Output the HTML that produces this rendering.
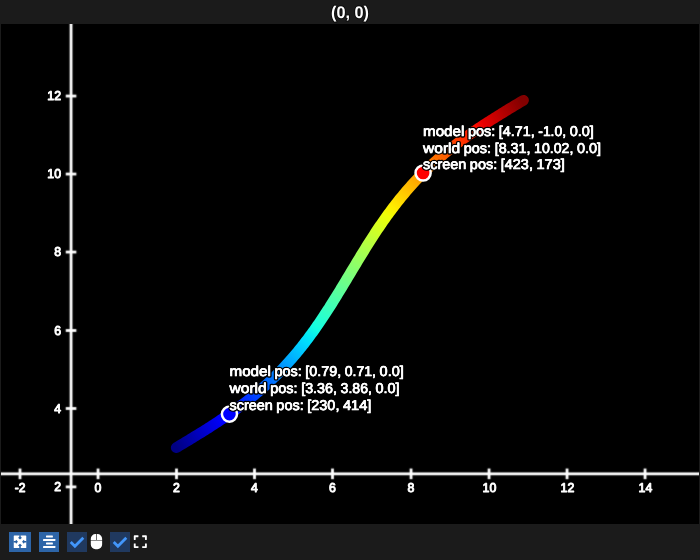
<!DOCTYPE html>
<html><head><meta charset="utf-8"><title>(0, 0)</title>
<style>
html,body{margin:0;padding:0;}
body{width:700px;height:560px;background:#1b1b1b;overflow:hidden;position:relative;font-family:"Liberation Sans",sans-serif;}
#view{position:absolute;left:1px;top:24px;width:698px;height:500px;background:#000;}
#title{font-family:"Liberation Sans",sans-serif;font-weight:bold;font-size:16.9px;fill:#fff;stroke:#0a0a0a;stroke-width:2px;stroke-linejoin:round;paint-order:stroke fill;}
svg{position:absolute;left:0;top:0;text-rendering:geometricPrecision;}
.tick text{font-family:"Liberation Sans",sans-serif;font-size:12.8px;fill:#fff;stroke:#fff;stroke-width:0.95px;stroke-linejoin:round;}
.annt{font-family:"Liberation Sans",sans-serif;font-size:14.2px;}
.halo{fill:#fff;stroke:#000;stroke-width:3.3px;stroke-linejoin:round;paint-order:stroke fill;}
.face{fill:#fff;stroke:#fff;stroke-width:0.7px;stroke-linejoin:round;}
</style></head><body>
<div id="view"></div>
<svg width="700" height="560" viewBox="0 0 700 560">
<text id="title" x="331" y="18.3" textLength="38" lengthAdjust="spacingAndGlyphs">(0, 0)</text>
<defs><g id="annt" class="annt">
<text y="376.00"><tspan x="229.50" textLength="41.32" lengthAdjust="spacingAndGlyphs">model</tspan> <tspan x="274.43" textLength="27.30" lengthAdjust="spacingAndGlyphs">pos:</tspan> <tspan x="305.34" textLength="35.82" lengthAdjust="spacingAndGlyphs">[0.79,</tspan> <tspan x="344.77" textLength="31.26" lengthAdjust="spacingAndGlyphs">0.71,</tspan> <tspan x="379.64" textLength="24.17" lengthAdjust="spacingAndGlyphs">0.0]</tspan></text>
<text y="393.00"><tspan x="229.50" textLength="37.16" lengthAdjust="spacingAndGlyphs">world</tspan> <tspan x="270.27" textLength="27.30" lengthAdjust="spacingAndGlyphs">pos:</tspan> <tspan x="301.18" textLength="35.82" lengthAdjust="spacingAndGlyphs">[3.36,</tspan> <tspan x="340.61" textLength="31.26" lengthAdjust="spacingAndGlyphs">3.86,</tspan> <tspan x="375.48" textLength="24.17" lengthAdjust="spacingAndGlyphs">0.0]</tspan></text>
<text y="410.00"><tspan x="229.50" textLength="43.28" lengthAdjust="spacingAndGlyphs">screen</tspan> <tspan x="276.39" textLength="27.30" lengthAdjust="spacingAndGlyphs">pos:</tspan> <tspan x="307.30" textLength="32.10" lengthAdjust="spacingAndGlyphs">[230,</tspan> <tspan x="343.01" textLength="28.38" lengthAdjust="spacingAndGlyphs">414]</tspan></text>
<text y="136.00"><tspan x="423.00" textLength="41.32" lengthAdjust="spacingAndGlyphs">model</tspan> <tspan x="467.93" textLength="27.30" lengthAdjust="spacingAndGlyphs">pos:</tspan> <tspan x="498.84" textLength="35.82" lengthAdjust="spacingAndGlyphs">[4.71,</tspan> <tspan x="538.27" textLength="27.79" lengthAdjust="spacingAndGlyphs">-1.0,</tspan> <tspan x="569.67" textLength="24.17" lengthAdjust="spacingAndGlyphs">0.0]</tspan></text>
<text y="153.00"><tspan x="423.00" textLength="37.16" lengthAdjust="spacingAndGlyphs">world</tspan> <tspan x="463.77" textLength="27.30" lengthAdjust="spacingAndGlyphs">pos:</tspan> <tspan x="494.68" textLength="35.82" lengthAdjust="spacingAndGlyphs">[8.31,</tspan> <tspan x="534.11" textLength="39.20" lengthAdjust="spacingAndGlyphs">10.02,</tspan> <tspan x="576.92" textLength="24.17" lengthAdjust="spacingAndGlyphs">0.0]</tspan></text>
<text y="169.00"><tspan x="423.00" textLength="43.28" lengthAdjust="spacingAndGlyphs">screen</tspan> <tspan x="469.89" textLength="27.30" lengthAdjust="spacingAndGlyphs">pos:</tspan> <tspan x="500.80" textLength="32.10" lengthAdjust="spacingAndGlyphs">[423,</tspan> <tspan x="536.51" textLength="28.38" lengthAdjust="spacingAndGlyphs">173]</tspan></text>
</g>
<filter id="soft" filterUnits="userSpaceOnUse" x="-10" y="0" width="720" height="560"><feConvolveMatrix order="3" kernelMatrix="0.0196 0.1008 0.0196 0.1008 0.5184 0.1008 0.0196 0.1008 0.0196" preserveAlpha="false" edgeMode="none"/></filter>
<clipPath id="vp"><rect x="1" y="24" width="698" height="500"/></clipPath></defs>
<g clip-path="url(#vp)">
<mask id="lm" maskUnits="userSpaceOnUse" x="0" y="0" width="700" height="560"><polyline points="176.29,447.63 178.10,446.54 179.91,445.46 181.71,444.37 183.52,443.29 185.33,442.20 187.13,441.11 188.93,440.02 190.73,438.93 192.53,437.83 194.33,436.73 196.13,435.64 197.92,434.53 199.71,433.43 201.49,432.32 203.27,431.21 205.05,430.09 206.83,428.98 208.60,427.85 210.37,426.73 212.13,425.59 213.88,424.46 215.64,423.32 217.38,422.17 219.13,421.02 220.86,419.86 222.59,418.70 224.32,417.53 226.04,416.35 227.75,415.17 229.45,413.98 231.15,412.79 232.84,411.59 234.53,410.38 236.21,409.16 237.88,407.94 239.54,406.71 241.20,405.47 242.84,404.22 244.48,402.97 246.11,401.71 247.74,400.44 249.35,399.16 250.96,397.87 252.56,396.58 254.15,395.27 255.73,393.96 257.30,392.64 258.86,391.31 260.41,389.97 261.96,388.62 263.49,387.26 265.02,385.89 266.54,384.51 268.05,383.13 269.54,381.73 271.03,380.33 272.51,378.91 273.98,377.49 275.44,376.06 276.90,374.61 278.34,373.16 279.77,371.70 281.19,370.23 282.61,368.75 284.01,367.26 285.40,365.76 286.79,364.25 288.17,362.73 289.53,361.21 290.89,359.67 292.24,358.13 293.58,356.57 294.91,355.01 296.23,353.43 297.54,351.85 298.85,350.26 300.14,348.66 301.43,347.06 302.71,345.44 303.97,343.82 305.24,342.19 306.49,340.54 307.74,338.90 308.97,337.24 310.20,335.58 311.43,333.91 312.64,332.23 313.85,330.54 315.05,328.85 316.25,327.15 317.43,325.44 318.61,323.73 319.79,322.01 320.96,320.28 322.12,318.55 323.28,316.82 324.43,315.07 325.57,313.32 326.71,311.57 327.85,309.81 328.98,308.05 330.11,306.28 331.23,304.51 332.35,302.74 333.46,300.96 334.57,299.17 335.68,297.39 336.78,295.60 337.88,293.80 338.98,292.01 340.08,290.21 341.17,288.41 342.27,286.61 343.36,284.80 344.44,283.00 345.53,281.19 346.62,279.38 347.70,277.58 348.79,275.77 349.87,273.96 350.96,272.15 352.04,270.34 353.13,268.53 354.22,266.72 355.30,264.92 356.39,263.11 357.48,261.31 358.57,259.51 359.67,257.71 360.76,255.91 361.86,254.11 362.96,252.32 364.07,250.53 365.17,248.74 366.29,246.96 367.40,245.18 368.52,243.40 369.64,241.63 370.77,239.87 371.90,238.10 373.03,236.34 374.17,234.59 375.32,232.84 376.47,231.10 377.63,229.36 378.79,227.63 379.96,225.91 381.13,224.19 382.31,222.47 383.50,220.77 384.70,219.07 385.90,217.37 387.11,215.69 388.32,214.01 389.54,212.34 390.77,210.68 392.01,209.02 393.26,207.37 394.51,205.73 395.77,204.10 397.04,202.47 398.32,200.86 399.61,199.25 400.90,197.65 402.21,196.06 403.52,194.48 404.84,192.91 406.17,191.34 407.51,189.79 408.86,188.24 410.21,186.71 411.58,185.18 412.96,183.66 414.34,182.15 415.74,180.66 417.14,179.17 418.55,177.69 419.98,176.21 421.41,174.75 422.85,173.30 424.30,171.86 425.76,170.43 427.23,169.00 428.71,167.59 430.20,166.18 431.70,164.79 433.21,163.40 434.73,162.03 436.25,160.66 437.79,159.30 439.33,157.95 440.89,156.61 442.45,155.28 444.02,153.96 445.60,152.64 447.19,151.34 448.79,150.04 450.39,148.76 452.01,147.48 453.63,146.21 455.26,144.95 456.90,143.69 458.55,142.44 460.21,141.21 461.87,139.98 463.54,138.75 465.22,137.54 466.90,136.33 468.59,135.13 470.29,133.93 472.00,132.74 473.71,131.56 475.43,130.39 477.15,129.22 478.88,128.05 480.62,126.90 482.36,125.74 484.11,124.60 485.86,123.46 487.62,122.32 489.38,121.19 491.15,120.06 492.92,118.94 494.69,117.82 496.47,116.71 498.26,115.59 500.04,114.49 501.83,113.38 503.62,112.28 505.42,111.18 507.21,110.08 509.01,108.99 510.81,107.90 512.62,106.81 514.42,105.72 516.23,104.63 518.03,103.54 519.84,102.46 521.65,101.37 523.46,100.29" fill="none" stroke="#fff" stroke-width="10.8" stroke-linecap="round" stroke-linejoin="round"/></mask>
<g mask="url(#lm)"><g stroke-width="18" stroke-linecap="butt" fill="none">
<line x1="170.29" y1="451.23" x2="178.96" y2="446.03" stroke="#000082"/>
<line x1="177.24" y1="447.06" x2="180.76" y2="444.94" stroke="#000087"/>
<line x1="179.05" y1="445.97" x2="182.57" y2="443.86" stroke="#00008c"/>
<line x1="180.86" y1="444.89" x2="184.38" y2="442.77" stroke="#000090"/>
<line x1="182.66" y1="443.80" x2="186.18" y2="441.68" stroke="#000095"/>
<line x1="184.47" y1="442.71" x2="187.99" y2="440.59" stroke="#00009a"/>
<line x1="186.27" y1="441.63" x2="189.79" y2="439.50" stroke="#00009f"/>
<line x1="188.08" y1="440.54" x2="191.59" y2="438.41" stroke="#0000a4"/>
<line x1="189.88" y1="439.44" x2="193.39" y2="437.31" stroke="#0000a9"/>
<line x1="191.68" y1="438.35" x2="195.18" y2="436.21" stroke="#0000ad"/>
<line x1="193.48" y1="437.26" x2="196.98" y2="435.11" stroke="#0000b2"/>
<line x1="195.27" y1="436.16" x2="198.77" y2="434.01" stroke="#0000b7"/>
<line x1="197.07" y1="435.06" x2="200.56" y2="432.90" stroke="#0000bc"/>
<line x1="198.86" y1="433.96" x2="202.34" y2="431.79" stroke="#0000c1"/>
<line x1="200.64" y1="432.85" x2="204.12" y2="430.68" stroke="#0000c6"/>
<line x1="202.43" y1="431.74" x2="205.90" y2="429.56" stroke="#0000ca"/>
<line x1="204.21" y1="430.63" x2="207.67" y2="428.44" stroke="#0000cf"/>
<line x1="205.98" y1="429.51" x2="209.44" y2="427.32" stroke="#0000d4"/>
<line x1="207.76" y1="428.39" x2="211.21" y2="426.19" stroke="#0000d9"/>
<line x1="209.52" y1="427.27" x2="212.97" y2="425.05" stroke="#0000de"/>
<line x1="211.29" y1="426.14" x2="214.72" y2="423.92" stroke="#0000e3"/>
<line x1="213.05" y1="425.00" x2="216.47" y2="422.77" stroke="#0000e7"/>
<line x1="214.80" y1="423.87" x2="218.22" y2="421.62" stroke="#0000ec"/>
<line x1="216.55" y1="422.72" x2="219.96" y2="420.47" stroke="#0000f1"/>
<line x1="218.29" y1="421.57" x2="221.69" y2="419.31" stroke="#0000f6"/>
<line x1="220.03" y1="420.42" x2="223.42" y2="418.14" stroke="#0000fb"/>
<line x1="221.77" y1="419.26" x2="225.15" y2="416.97" stroke="#0000ff"/>
<line x1="223.49" y1="418.09" x2="226.86" y2="415.79" stroke="#0000ff"/>
<line x1="225.21" y1="416.92" x2="228.57" y2="414.60" stroke="#0000ff"/>
<line x1="226.93" y1="415.74" x2="230.27" y2="413.41" stroke="#0000ff"/>
<line x1="228.64" y1="414.56" x2="231.97" y2="412.21" stroke="#0002ff"/>
<line x1="230.34" y1="413.37" x2="233.66" y2="411.01" stroke="#0006ff"/>
<line x1="232.03" y1="412.17" x2="235.34" y2="409.80" stroke="#000bff"/>
<line x1="233.72" y1="410.97" x2="237.02" y2="408.58" stroke="#000fff"/>
<line x1="235.40" y1="409.75" x2="238.68" y2="407.35" stroke="#0013ff"/>
<line x1="237.07" y1="408.53" x2="240.34" y2="406.11" stroke="#0017ff"/>
<line x1="238.74" y1="407.31" x2="242.00" y2="404.87" stroke="#001cff"/>
<line x1="240.40" y1="406.07" x2="243.64" y2="403.62" stroke="#0020ff"/>
<line x1="242.05" y1="404.83" x2="245.28" y2="402.36" stroke="#0024ff"/>
<line x1="243.69" y1="403.58" x2="246.90" y2="401.10" stroke="#0028ff"/>
<line x1="245.33" y1="402.32" x2="248.52" y2="399.82" stroke="#002dff"/>
<line x1="246.95" y1="401.06" x2="250.14" y2="398.54" stroke="#0031ff"/>
<line x1="248.57" y1="399.78" x2="251.74" y2="397.25" stroke="#0035ff"/>
<line x1="250.18" y1="398.50" x2="253.33" y2="395.95" stroke="#0039ff"/>
<line x1="251.78" y1="397.21" x2="254.92" y2="394.64" stroke="#003eff"/>
<line x1="253.38" y1="395.91" x2="256.50" y2="393.32" stroke="#0042ff"/>
<line x1="254.96" y1="394.60" x2="258.06" y2="391.99" stroke="#0046ff"/>
<line x1="256.54" y1="393.28" x2="259.62" y2="390.66" stroke="#004aff"/>
<line x1="258.10" y1="391.96" x2="261.17" y2="389.31" stroke="#004fff"/>
<line x1="259.66" y1="390.62" x2="262.71" y2="387.96" stroke="#0053ff"/>
<line x1="261.21" y1="389.28" x2="264.24" y2="386.60" stroke="#0057ff"/>
<line x1="262.75" y1="387.93" x2="265.77" y2="385.22" stroke="#005bff"/>
<line x1="264.28" y1="386.56" x2="267.28" y2="383.84" stroke="#0060ff"/>
<line x1="265.80" y1="385.19" x2="268.78" y2="382.45" stroke="#0064ff"/>
<line x1="267.31" y1="383.81" x2="270.28" y2="381.05" stroke="#0068ff"/>
<line x1="268.82" y1="382.42" x2="271.76" y2="379.64" stroke="#006cff"/>
<line x1="270.31" y1="381.02" x2="273.24" y2="378.22" stroke="#0071ff"/>
<line x1="271.79" y1="379.61" x2="274.70" y2="376.79" stroke="#0075ff"/>
<line x1="273.27" y1="378.19" x2="276.16" y2="375.36" stroke="#0079ff"/>
<line x1="274.73" y1="376.76" x2="277.60" y2="373.91" stroke="#007dff"/>
<line x1="276.19" y1="375.32" x2="279.04" y2="372.45" stroke="#0082ff"/>
<line x1="277.64" y1="373.88" x2="280.47" y2="370.99" stroke="#0086ff"/>
<line x1="279.07" y1="372.42" x2="281.89" y2="369.51" stroke="#008aff"/>
<line x1="280.50" y1="370.95" x2="283.30" y2="368.03" stroke="#008eff"/>
<line x1="281.92" y1="369.48" x2="284.70" y2="366.53" stroke="#0093ff"/>
<line x1="283.33" y1="367.99" x2="286.09" y2="365.03" stroke="#0097ff"/>
<line x1="284.73" y1="366.50" x2="287.47" y2="363.52" stroke="#009bff"/>
<line x1="286.12" y1="364.99" x2="288.84" y2="361.99" stroke="#009fff"/>
<line x1="287.50" y1="363.48" x2="290.20" y2="360.46" stroke="#00a4ff"/>
<line x1="288.87" y1="361.96" x2="291.55" y2="358.92" stroke="#00a8ff"/>
<line x1="290.23" y1="360.42" x2="292.90" y2="357.37" stroke="#00acff"/>
<line x1="291.59" y1="358.88" x2="294.23" y2="355.81" stroke="#00b0ff"/>
<line x1="292.93" y1="357.33" x2="295.56" y2="354.25" stroke="#00b5ff"/>
<line x1="294.26" y1="355.77" x2="296.87" y2="352.67" stroke="#00b9ff"/>
<line x1="295.59" y1="354.20" x2="298.18" y2="351.08" stroke="#00bdff"/>
<line x1="296.91" y1="352.63" x2="299.48" y2="349.49" stroke="#00c1ff"/>
<line x1="298.22" y1="351.04" x2="300.77" y2="347.89" stroke="#00c6ff"/>
<line x1="299.52" y1="349.45" x2="302.05" y2="346.28" stroke="#00caff"/>
<line x1="300.81" y1="347.84" x2="303.33" y2="344.66" stroke="#00ceff"/>
<line x1="302.09" y1="346.23" x2="304.59" y2="343.03" stroke="#00d2ff"/>
<line x1="303.36" y1="344.61" x2="305.85" y2="341.39" stroke="#00d7ff"/>
<line x1="304.63" y1="342.98" x2="307.10" y2="339.75" stroke="#00dbff"/>
<line x1="305.89" y1="341.34" x2="308.34" y2="338.10" stroke="#00dffc"/>
<line x1="307.14" y1="339.70" x2="309.57" y2="336.44" stroke="#00e3f8"/>
<line x1="308.38" y1="338.04" x2="310.80" y2="334.77" stroke="#02e8f5"/>
<line x1="309.61" y1="336.38" x2="312.02" y2="333.10" stroke="#05ecf2"/>
<line x1="310.84" y1="334.72" x2="313.23" y2="331.42" stroke="#09f0ee"/>
<line x1="312.06" y1="333.04" x2="314.43" y2="329.73" stroke="#0cf4eb"/>
<line x1="313.27" y1="331.36" x2="315.63" y2="328.03" stroke="#0ff9e7"/>
<line x1="314.48" y1="329.67" x2="316.82" y2="326.33" stroke="#13fde4"/>
<line x1="315.67" y1="327.97" x2="318.00" y2="324.62" stroke="#16ffe0"/>
<line x1="316.86" y1="326.27" x2="319.18" y2="322.91" stroke="#1affdd"/>
<line x1="318.05" y1="324.55" x2="320.35" y2="321.18" stroke="#1dffda"/>
<line x1="319.23" y1="322.84" x2="321.52" y2="319.46" stroke="#21ffd6"/>
<line x1="320.40" y1="321.11" x2="322.68" y2="317.72" stroke="#24ffd3"/>
<line x1="321.56" y1="319.39" x2="323.83" y2="315.98" stroke="#27ffcf"/>
<line x1="322.72" y1="317.65" x2="324.98" y2="314.24" stroke="#2bffcc"/>
<line x1="323.88" y1="315.91" x2="326.12" y2="312.49" stroke="#2effc9"/>
<line x1="325.03" y1="314.16" x2="327.26" y2="310.73" stroke="#32ffc5"/>
<line x1="326.17" y1="312.41" x2="328.39" y2="308.97" stroke="#35ffc2"/>
<line x1="327.31" y1="310.65" x2="329.52" y2="307.21" stroke="#39ffbe"/>
<line x1="328.44" y1="308.89" x2="330.64" y2="305.44" stroke="#3cffbb"/>
<line x1="329.57" y1="307.13" x2="331.76" y2="303.67" stroke="#3fffb7"/>
<line x1="330.70" y1="305.36" x2="332.88" y2="301.89" stroke="#43ffb4"/>
<line x1="331.82" y1="303.58" x2="333.99" y2="300.11" stroke="#46ffb1"/>
<line x1="332.93" y1="301.80" x2="335.10" y2="298.32" stroke="#4affad"/>
<line x1="334.05" y1="300.02" x2="336.21" y2="296.54" stroke="#4dffaa"/>
<line x1="335.15" y1="298.24" x2="337.31" y2="294.74" stroke="#51ffa6"/>
<line x1="336.26" y1="296.45" x2="338.41" y2="292.95" stroke="#54ffa3"/>
<line x1="337.36" y1="294.66" x2="339.51" y2="291.15" stroke="#57ff9f"/>
<line x1="338.46" y1="292.86" x2="340.60" y2="289.36" stroke="#5bff9c"/>
<line x1="339.56" y1="291.06" x2="341.69" y2="287.55" stroke="#5eff99"/>
<line x1="340.65" y1="289.26" x2="342.78" y2="285.75" stroke="#62ff95"/>
<line x1="341.75" y1="287.46" x2="343.87" y2="283.95" stroke="#65ff92"/>
<line x1="342.84" y1="285.66" x2="344.96" y2="282.14" stroke="#69ff8e"/>
<line x1="343.93" y1="283.85" x2="346.05" y2="280.33" stroke="#6cff8b"/>
<line x1="345.02" y1="282.05" x2="347.13" y2="278.53" stroke="#6fff87"/>
<line x1="346.10" y1="280.24" x2="348.22" y2="276.72" stroke="#73ff84"/>
<line x1="347.19" y1="278.43" x2="349.30" y2="274.91" stroke="#76ff81"/>
<line x1="348.27" y1="276.62" x2="350.39" y2="273.10" stroke="#7aff7d"/>
<line x1="349.36" y1="274.82" x2="351.47" y2="271.29" stroke="#7dff7a"/>
<line x1="350.44" y1="273.01" x2="352.56" y2="269.48" stroke="#81ff76"/>
<line x1="351.53" y1="271.20" x2="353.64" y2="267.67" stroke="#84ff73"/>
<line x1="352.61" y1="269.39" x2="354.73" y2="265.87" stroke="#87ff6f"/>
<line x1="353.70" y1="267.58" x2="355.82" y2="264.06" stroke="#8bff6c"/>
<line x1="354.79" y1="265.77" x2="356.91" y2="262.26" stroke="#8eff69"/>
<line x1="355.87" y1="263.97" x2="358.00" y2="260.45" stroke="#92ff65"/>
<line x1="356.96" y1="262.16" x2="359.09" y2="258.65" stroke="#95ff62"/>
<line x1="358.05" y1="260.36" x2="360.19" y2="256.85" stroke="#99ff5e"/>
<line x1="359.15" y1="258.56" x2="361.28" y2="255.05" stroke="#9cff5b"/>
<line x1="360.24" y1="256.76" x2="362.38" y2="253.26" stroke="#9fff57"/>
<line x1="361.34" y1="254.96" x2="363.49" y2="251.47" stroke="#a3ff54"/>
<line x1="362.44" y1="253.17" x2="364.59" y2="249.68" stroke="#a6ff51"/>
<line x1="363.54" y1="251.38" x2="365.70" y2="247.89" stroke="#aaff4d"/>
<line x1="364.65" y1="249.59" x2="366.81" y2="246.11" stroke="#adff4a"/>
<line x1="365.75" y1="247.81" x2="367.93" y2="244.33" stroke="#b1ff46"/>
<line x1="366.87" y1="246.03" x2="369.05" y2="242.56" stroke="#b4ff43"/>
<line x1="367.98" y1="244.25" x2="370.17" y2="240.79" stroke="#b7ff3f"/>
<line x1="369.10" y1="242.48" x2="371.30" y2="239.02" stroke="#bbff3c"/>
<line x1="370.23" y1="240.71" x2="372.44" y2="237.26" stroke="#beff39"/>
<line x1="371.35" y1="238.94" x2="373.58" y2="235.50" stroke="#c2ff35"/>
<line x1="372.49" y1="237.18" x2="374.72" y2="233.75" stroke="#c5ff32"/>
<line x1="373.63" y1="235.43" x2="375.87" y2="232.01" stroke="#c9ff2e"/>
<line x1="374.77" y1="233.68" x2="377.02" y2="230.27" stroke="#ccff2b"/>
<line x1="375.92" y1="231.93" x2="378.18" y2="228.53" stroke="#cfff27"/>
<line x1="377.07" y1="230.19" x2="379.35" y2="226.80" stroke="#d3ff24"/>
<line x1="378.23" y1="228.46" x2="380.52" y2="225.08" stroke="#d6ff21"/>
<line x1="379.39" y1="226.73" x2="381.70" y2="223.36" stroke="#daff1d"/>
<line x1="380.57" y1="225.01" x2="382.88" y2="221.65" stroke="#ddff1a"/>
<line x1="381.74" y1="223.29" x2="384.07" y2="219.95" stroke="#e0ff16"/>
<line x1="382.93" y1="221.59" x2="385.27" y2="218.25" stroke="#e4ff13"/>
<line x1="384.12" y1="219.88" x2="386.48" y2="216.56" stroke="#e7ff0f"/>
<line x1="385.31" y1="218.19" x2="387.69" y2="214.88" stroke="#ebff0c"/>
<line x1="386.52" y1="216.50" x2="388.91" y2="213.20" stroke="#eeff09"/>
<line x1="387.73" y1="214.82" x2="390.13" y2="211.53" stroke="#f2fb05"/>
<line x1="388.95" y1="213.14" x2="391.37" y2="209.87" stroke="#f5f802"/>
<line x1="390.17" y1="211.48" x2="392.61" y2="208.22" stroke="#f8f400"/>
<line x1="391.41" y1="209.82" x2="393.86" y2="206.57" stroke="#fcf000"/>
<line x1="392.65" y1="208.17" x2="395.12" y2="204.94" stroke="#ffec00"/>
<line x1="393.90" y1="206.52" x2="396.38" y2="203.31" stroke="#ffe800"/>
<line x1="395.16" y1="204.89" x2="397.66" y2="201.69" stroke="#ffe400"/>
<line x1="396.42" y1="203.26" x2="398.94" y2="200.07" stroke="#ffe000"/>
<line x1="397.69" y1="201.64" x2="400.23" y2="198.47" stroke="#ffdc00"/>
<line x1="398.98" y1="200.03" x2="401.53" y2="196.88" stroke="#ffd800"/>
<line x1="400.27" y1="198.43" x2="402.84" y2="195.29" stroke="#ffd400"/>
<line x1="401.57" y1="196.83" x2="404.16" y2="193.71" stroke="#ffd000"/>
<line x1="402.87" y1="195.25" x2="405.48" y2="192.14" stroke="#ffcc00"/>
<line x1="404.19" y1="193.67" x2="406.82" y2="190.58" stroke="#ffc800"/>
<line x1="405.52" y1="192.10" x2="408.16" y2="189.03" stroke="#ffc400"/>
<line x1="406.85" y1="190.54" x2="409.51" y2="187.49" stroke="#ffc000"/>
<line x1="408.20" y1="188.99" x2="410.88" y2="185.96" stroke="#ffbc00"/>
<line x1="409.55" y1="187.45" x2="412.25" y2="184.44" stroke="#ffb900"/>
<line x1="410.91" y1="185.92" x2="413.63" y2="182.92" stroke="#ffb500"/>
<line x1="412.28" y1="184.40" x2="415.02" y2="181.42" stroke="#ffb100"/>
<line x1="413.66" y1="182.89" x2="416.42" y2="179.92" stroke="#ffad00"/>
<line x1="415.05" y1="181.38" x2="417.83" y2="178.44" stroke="#ffa900"/>
<line x1="416.45" y1="179.89" x2="419.25" y2="176.96" stroke="#ffa500"/>
<line x1="417.86" y1="178.40" x2="420.67" y2="175.50" stroke="#ffa100"/>
<line x1="419.28" y1="176.93" x2="422.11" y2="174.04" stroke="#ff9d00"/>
<line x1="420.71" y1="175.46" x2="423.56" y2="172.59" stroke="#ff9900"/>
<line x1="422.14" y1="174.01" x2="425.01" y2="171.15" stroke="#ff9500"/>
<line x1="423.59" y1="172.56" x2="426.48" y2="169.73" stroke="#ff9100"/>
<line x1="425.05" y1="171.12" x2="427.95" y2="168.31" stroke="#ff8d00"/>
<line x1="426.51" y1="169.69" x2="429.44" y2="166.90" stroke="#ff8900"/>
<line x1="427.99" y1="168.27" x2="430.93" y2="165.50" stroke="#ff8500"/>
<line x1="429.47" y1="166.86" x2="432.43" y2="164.11" stroke="#ff8100"/>
<line x1="430.96" y1="165.46" x2="433.95" y2="162.72" stroke="#ff7e00"/>
<line x1="432.47" y1="164.07" x2="435.47" y2="161.35" stroke="#ff7a00"/>
<line x1="433.98" y1="162.69" x2="437.00" y2="159.99" stroke="#ff7600"/>
<line x1="435.50" y1="161.32" x2="438.54" y2="158.64" stroke="#ff7200"/>
<line x1="437.03" y1="159.96" x2="440.09" y2="157.29" stroke="#ff6e00"/>
<line x1="438.58" y1="158.60" x2="441.64" y2="155.96" stroke="#ff6a00"/>
<line x1="440.12" y1="157.26" x2="443.21" y2="154.63" stroke="#ff6600"/>
<line x1="441.68" y1="155.92" x2="444.79" y2="153.31" stroke="#ff6200"/>
<line x1="443.25" y1="154.60" x2="446.37" y2="152.01" stroke="#ff5e00"/>
<line x1="444.83" y1="153.28" x2="447.96" y2="150.71" stroke="#ff5a00"/>
<line x1="446.41" y1="151.97" x2="449.57" y2="149.41" stroke="#ff5600"/>
<line x1="448.01" y1="150.67" x2="451.18" y2="148.13" stroke="#ff5200"/>
<line x1="449.61" y1="149.38" x2="452.79" y2="146.86" stroke="#ff4e00"/>
<line x1="451.22" y1="148.09" x2="454.42" y2="145.59" stroke="#ff4a00"/>
<line x1="452.84" y1="146.82" x2="456.06" y2="144.33" stroke="#ff4600"/>
<line x1="454.47" y1="145.55" x2="457.70" y2="143.08" stroke="#ff4300"/>
<line x1="456.11" y1="144.29" x2="459.35" y2="141.84" stroke="#ff3f00"/>
<line x1="457.75" y1="143.04" x2="461.01" y2="140.61" stroke="#ff3b00"/>
<line x1="459.40" y1="141.80" x2="462.67" y2="139.38" stroke="#ff3700"/>
<line x1="461.06" y1="140.57" x2="464.35" y2="138.16" stroke="#ff3300"/>
<line x1="462.73" y1="139.34" x2="466.03" y2="136.95" stroke="#ff2f00"/>
<line x1="464.41" y1="138.12" x2="467.72" y2="135.74" stroke="#ff2b00"/>
<line x1="466.09" y1="136.91" x2="469.41" y2="134.55" stroke="#ff2700"/>
<line x1="467.78" y1="135.70" x2="471.11" y2="133.36" stroke="#ff2300"/>
<line x1="469.47" y1="134.50" x2="472.82" y2="132.17" stroke="#ff1f00"/>
<line x1="471.18" y1="133.31" x2="474.53" y2="130.99" stroke="#ff1b00"/>
<line x1="472.89" y1="132.13" x2="476.25" y2="129.82" stroke="#ff1700"/>
<line x1="474.60" y1="130.95" x2="477.98" y2="128.66" stroke="#ff1300"/>
<line x1="476.32" y1="129.77" x2="479.71" y2="127.50" stroke="#fb0f00"/>
<line x1="478.05" y1="128.61" x2="481.45" y2="126.34" stroke="#f60b00"/>
<line x1="479.79" y1="127.45" x2="483.20" y2="125.19" stroke="#f10700"/>
<line x1="481.53" y1="126.29" x2="484.95" y2="124.05" stroke="#ec0400"/>
<line x1="483.27" y1="125.14" x2="486.70" y2="122.91" stroke="#e70000"/>
<line x1="485.02" y1="124.00" x2="488.46" y2="121.78" stroke="#e30000"/>
<line x1="486.78" y1="122.86" x2="490.22" y2="120.65" stroke="#de0000"/>
<line x1="488.54" y1="121.73" x2="491.99" y2="119.52" stroke="#d90000"/>
<line x1="490.30" y1="120.60" x2="493.76" y2="118.40" stroke="#d40000"/>
<line x1="492.07" y1="119.47" x2="495.54" y2="117.29" stroke="#cf0000"/>
<line x1="493.85" y1="118.35" x2="497.32" y2="116.17" stroke="#ca0000"/>
<line x1="495.62" y1="117.23" x2="499.10" y2="115.07" stroke="#c60000"/>
<line x1="497.41" y1="116.12" x2="500.89" y2="113.96" stroke="#c10000"/>
<line x1="499.19" y1="115.01" x2="502.68" y2="112.86" stroke="#bc0000"/>
<line x1="500.98" y1="113.91" x2="504.47" y2="111.76" stroke="#b70000"/>
<line x1="502.77" y1="112.80" x2="506.27" y2="110.66" stroke="#b20000"/>
<line x1="504.56" y1="111.70" x2="508.07" y2="109.56" stroke="#ad0000"/>
<line x1="506.36" y1="110.60" x2="509.87" y2="108.47" stroke="#a90000"/>
<line x1="508.16" y1="109.51" x2="511.67" y2="107.38" stroke="#a40000"/>
<line x1="509.96" y1="108.42" x2="513.47" y2="106.29" stroke="#9f0000"/>
<line x1="511.76" y1="107.32" x2="515.28" y2="105.20" stroke="#9a0000"/>
<line x1="513.56" y1="106.23" x2="517.08" y2="104.11" stroke="#950000"/>
<line x1="515.37" y1="105.15" x2="518.89" y2="103.03" stroke="#900000"/>
<line x1="517.18" y1="104.06" x2="520.70" y2="101.94" stroke="#8c0000"/>
<line x1="518.98" y1="102.97" x2="522.51" y2="100.86" stroke="#870000"/>
<line x1="520.79" y1="101.89" x2="529.46" y2="96.68" stroke="#820000"/>
</g></g>
<circle cx="229.45" cy="414.1" r="7.55" fill="#0000ff" stroke="#fff" stroke-width="2.5"/>
<circle cx="423.1" cy="173.05" r="7.55" fill="#ff0000" stroke="#fff" stroke-width="2.5"/>
<use href="#annt" class="halo"/>
<use href="#annt" class="face"/>
<g filter="url(#soft)">
<rect x="69.65" y="20" width="2.8" height="510" fill="#fff"/><rect x="-4" y="472.45" width="708" height="2.8" fill="#fff"/>
<rect x="18.60" y="468.55" width="2.8" height="10.6" fill="#fff"/><rect x="96.65" y="468.55" width="2.8" height="10.6" fill="#fff"/><rect x="175.10" y="468.55" width="2.8" height="10.6" fill="#fff"/><rect x="253.10" y="468.55" width="2.8" height="10.6" fill="#fff"/><rect x="331.10" y="468.55" width="2.8" height="10.6" fill="#fff"/><rect x="409.65" y="468.55" width="2.8" height="10.6" fill="#fff"/><rect x="487.65" y="468.55" width="2.8" height="10.6" fill="#fff"/><rect x="565.65" y="468.55" width="2.8" height="10.6" fill="#fff"/><rect x="643.65" y="468.55" width="2.8" height="10.6" fill="#fff"/><rect x="65.75" y="485.50" width="10.6" height="2.8" fill="#fff"/><rect x="65.75" y="407.10" width="10.6" height="2.8" fill="#fff"/><rect x="65.75" y="329.10" width="10.6" height="2.8" fill="#fff"/><rect x="65.75" y="250.65" width="10.6" height="2.8" fill="#fff"/><rect x="65.75" y="172.65" width="10.6" height="2.8" fill="#fff"/><rect x="65.75" y="94.65" width="10.6" height="2.8" fill="#fff"/>
</g>
<g class="tick">
<text x="14.64" y="492.35" textLength="10.73" lengthAdjust="spacingAndGlyphs">-2</text><text x="94.62" y="492.35" textLength="6.86" lengthAdjust="spacingAndGlyphs">0</text><text x="173.07" y="492.35" textLength="6.86" lengthAdjust="spacingAndGlyphs">2</text><text x="251.07" y="492.35" textLength="6.86" lengthAdjust="spacingAndGlyphs">4</text><text x="329.07" y="492.35" textLength="6.86" lengthAdjust="spacingAndGlyphs">6</text><text x="407.62" y="492.35" textLength="6.86" lengthAdjust="spacingAndGlyphs">8</text><text x="482.59" y="492.35" textLength="13.73" lengthAdjust="spacingAndGlyphs">10</text><text x="560.59" y="492.35" textLength="13.73" lengthAdjust="spacingAndGlyphs">12</text><text x="638.59" y="492.35" textLength="13.73" lengthAdjust="spacingAndGlyphs">14</text><text x="54.24" y="491.20" textLength="6.86" lengthAdjust="spacingAndGlyphs">2</text><text x="54.24" y="412.80" textLength="6.86" lengthAdjust="spacingAndGlyphs">4</text><text x="54.24" y="334.80" textLength="6.86" lengthAdjust="spacingAndGlyphs">6</text><text x="54.24" y="256.35" textLength="6.86" lengthAdjust="spacingAndGlyphs">8</text><text x="47.37" y="178.35" textLength="13.73" lengthAdjust="spacingAndGlyphs">10</text><text x="47.37" y="100.35" textLength="13.73" lengthAdjust="spacingAndGlyphs">12</text>
</g>
</g>
<!-- toolbar -->
<rect x="9" y="532" width="22" height="20" fill="#2d65a8"/>
<rect x="39" y="532" width="20" height="20" fill="#2d65a8"/>
<rect x="67" y="532" width="20" height="20" fill="#20395f"/>
<rect x="110" y="532" width="20" height="20" fill="#20395f"/>
<!-- maximize icon -->
<rect x="13.75" y="535.4" width="12.5" height="12.600000000000023" rx="0.6" fill="#fff"/>
<polygon fill="#2861a4" points="19.25,535.20 20.75,535.20 20.75,537.10 22.00,537.80 20.00,539.60 18.00,537.80 19.25,537.10"/>
<polygon fill="#2861a4" points="19.25,548.20 20.75,548.20 20.75,546.30 22.00,545.60 20.00,543.80 18.00,545.60 19.25,546.30"/>
<polygon fill="#2861a4" points="13.55,540.95 13.55,542.45 15.45,542.45 16.15,543.70 17.95,541.70 16.15,539.70 15.45,540.95"/>
<polygon fill="#2861a4" points="26.45,540.95 26.45,542.45 24.55,542.45 23.85,543.70 22.05,541.70 23.85,539.70 24.55,540.95"/>
<!-- align-center icon -->
<g fill="#fff">
<rect x="46" y="535.5" width="6.9" height="1.9" rx="0.4"/>
<rect x="43" y="539.05" width="12.4" height="1.9" rx="0.4"/>
<rect x="46" y="542.6" width="6.9" height="1.9" rx="0.4"/>
<rect x="43" y="546.1" width="12.4" height="1.9" rx="0.4"/>
</g>
<!-- checkmarks -->
<polyline points="70.7,542.0 74.9,546.2 83.3,537.8" fill="none" stroke="#4296fa" stroke-width="2.8"/>
<polyline points="113.7,542.0 117.9,546.2 126.3,537.8" fill="none" stroke="#4296fa" stroke-width="2.8"/>
<!-- mouse icon -->
<g transform="translate(90.8,534.05) scale(0.0295)" fill="#fff">
<path d="M0 352a160 160 0 0 0 160 160h64a160 160 0 0 0 160-160V220H0zM181 0h-21A160 160 0 0 0 0 160v38h181zm43 0h-21v198h181v-38A160 160 0 0 0 224 0z"/>
</g>
<!-- expand icon -->
<g transform="translate(133.8,534.47) scale(0.0291,0.0282)" fill="#fff">
<path d="M0 180V56c0-13.3 10.7-24 24-24h124c6.600 0 12 5.400 12 12v40c0 6.600-5.400 12-12 12H64v84c0 6.600-5.400 12-12 12H12c-6.600 0-12-5.400-12-12zM288 44v40c0 6.600 5.400 12 12 12h84v84c0 6.600 5.400 12 12 12h40c6.600 0 12-5.400 12-12V56c0-13.300-10.700-24-24-24H300c-6.600 0-12 5.400-12 12zm148 276h-40c-6.600 0-12 5.400-12 12v84h-84c-6.600 0-12 5.400-12 12v40c0 6.600 5.400 12 12 12h124c13.300 0 24-10.700 24-24V332c0-6.600-5.400-12-12-12zM160 468v-40c0-6.600-5.400-12-12-12H64v-84c0-6.600-5.400-12-12-12H12c-6.600 0-12 5.400-12 12v124c0 13.300 10.700 24 24 24h124c6.600 0 12-5.400 12-12z"/>
</g>
</svg>
</body></html>
